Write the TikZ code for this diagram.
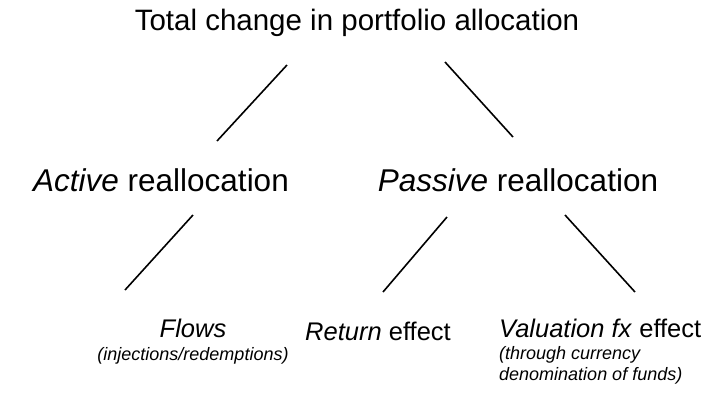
\documentclass[tikz,border=0pt]{standalone}
\usepackage{fontspec}
\setmainfont{Liberation Sans}
\begin{document}
\begin{tikzpicture}[x=1pt,y=-1pt,
  lbl/.style={inner sep=0pt,anchor=base,font=\fontsize{29.5}{34}\selectfont},
  mid/.style={inner sep=0pt,anchor=base,font=\fontsize{31.5}{36}\selectfont},
  sub/.style={inner sep=0pt,anchor=base,font=\fontsize{25.5}{30}\selectfont},
  note/.style={inner sep=0pt,anchor=base west,font=\fontsize{18}{22}\selectfont\itshape},
  link/.style={line width=1.6pt}]
\useasboundingbox (0,0) rectangle (710,392);
\node[lbl] (total) at (357,30) {Total change in portfolio allocation};
\node[mid] (active) at (161,191) {\textit{Active} reallocation};
\node[mid] (passive) at (518,191) {\textit{Passive} reallocation};
\node[sub] (flows) at (193,337) {\textit{Flows}};
\node[note,anchor=base] (inj) at (193,360) {(injections/redemptions)};
\node[sub] (return) at (378,340) {\textit{Return} effect};
\node[sub,anchor=base west] (valu) at (499,337) {\textit{Valuation fx} effect};
\node[note] (thr) at (499,359) {(through currency};
\node[note] (den) at (499,380) {denomination of funds)};
\coordinate (t1a) at (287,65); \coordinate (t1b) at (217,141);
\coordinate (t2a) at (445,62); \coordinate (t2b) at (513,137);
\coordinate (m1a) at (193,215); \coordinate (m1b) at (125,290);
\coordinate (m2a) at (447,217); \coordinate (m2b) at (383,292);
\coordinate (m3a) at (565,215); \coordinate (m3b) at (635,292);
\draw[link] (t1a) -- (t1b);
\draw[link] (t2a) -- (t2b);
\draw[link] (m1a) -- (m1b);
\draw[link] (m2a) -- (m2b);
\draw[link] (m3a) -- (m3b);
\end{tikzpicture}
\end{document}
